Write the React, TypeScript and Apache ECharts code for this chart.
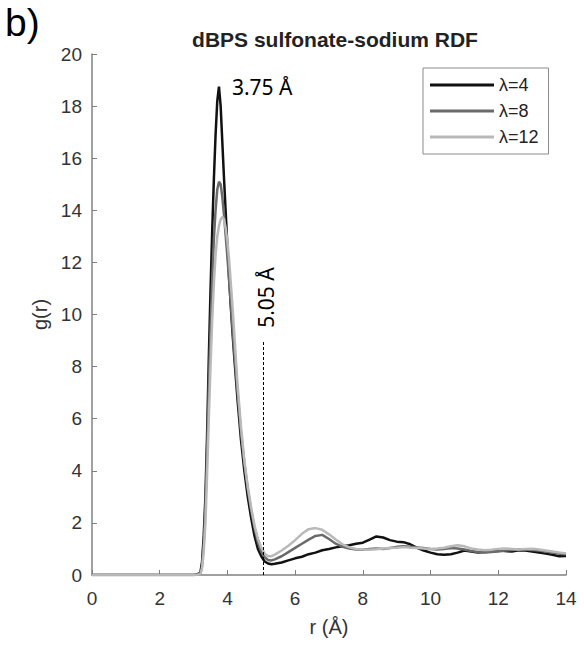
import React, { useEffect, useRef } from "react";
import * as echarts from "echarts";

const rValues = [
  0, 3.0, 3.1, 3.2, 3.25, 3.3, 3.35, 3.4, 3.45, 3.5, 3.55, 3.6, 3.65, 3.7, 3.75, 3.8, 3.85, 3.9, 3.95, 4.0,
  4.05, 4.1, 4.15, 4.2, 4.3, 4.4, 4.5, 4.6, 4.7, 4.8, 4.9, 5.0, 5.1, 5.2, 5.3, 5.4, 5.6, 5.8, 6.0, 6.2,
  6.4, 6.6, 6.8, 7.0, 7.2, 7.4, 7.6, 7.8, 8.0, 8.2, 8.4, 8.6, 8.8, 9.0, 9.2, 9.4, 9.6, 9.8, 10.0, 10.2,
  10.4, 10.6, 10.8, 11.0, 11.2, 11.4, 11.6, 11.8, 12.0, 12.2, 12.4, 12.6, 12.8, 13.0, 13.2, 13.4, 13.6, 13.8, 14.0,
];

const gLambda4 = [
  0, 0, 0.02, 0.08, 0.5, 1.5, 3.0, 5.4, 8.3, 10.9, 13.2, 15.2, 16.9, 18.2, 18.75, 18.0, 16.6, 15.2, 13.9, 12.6,
  11.4, 10.3, 9.3, 8.4, 6.7, 5.2, 4.0, 3.0, 2.2, 1.5, 1.0, 0.72, 0.52, 0.44, 0.41, 0.43, 0.48, 0.56, 0.64, 0.7,
  0.8, 0.86, 0.95, 1.0, 1.06, 1.1, 1.14, 1.2, 1.24, 1.36, 1.48, 1.44, 1.34, 1.28, 1.26, 1.18, 1.04, 0.94, 0.86, 0.8,
  0.78, 0.8, 0.86, 0.94, 0.9, 0.86, 0.88, 0.9, 0.94, 0.92, 0.9, 0.95, 0.94, 0.9, 0.86, 0.82, 0.78, 0.72, 0.73,
];

const gLambda8 = [
  0, 0, 0.01, 0.04, 0.35, 1.2, 2.6, 4.8, 7.2, 9.4, 11.3, 12.9, 14.0, 14.8, 15.1, 15.0, 14.5, 13.8, 13.0, 12.2,
  11.3, 10.4, 9.5, 8.6, 7.0, 5.5, 4.3, 3.3, 2.5, 1.8, 1.25, 0.9, 0.68, 0.58, 0.56, 0.6, 0.72, 0.88, 1.04, 1.2,
  1.36, 1.5, 1.54, 1.38, 1.2, 1.08, 1.02, 0.98, 0.97, 1.0, 1.02, 1.0, 1.04, 1.08, 1.1, 1.08, 1.06, 1.04, 1.0, 0.98,
  1.0, 1.04, 1.02, 0.98, 0.92, 0.88, 0.86, 0.88, 0.9, 0.94, 0.96, 0.98, 0.98, 0.96, 0.94, 0.9, 0.86, 0.82, 0.8,
];

const gLambda12 = [
  0, 0, 0.01, 0.03, 0.25, 0.9, 2.0, 3.9, 6.0, 8.0, 9.8, 11.2, 12.3, 13.0, 13.4, 13.65, 13.75, 13.65, 13.3, 12.8,
  12.1, 11.2, 10.3, 9.3, 7.3, 5.7, 4.4, 3.4, 2.6, 1.9, 1.4, 1.05, 0.82, 0.72, 0.72, 0.78, 0.94, 1.12, 1.34, 1.58,
  1.76, 1.8, 1.74, 1.56, 1.36, 1.18, 1.06, 1.0, 0.98, 0.97, 0.99, 1.02, 1.04, 1.05, 1.07, 1.05, 1.04, 1.02, 1.0, 1.02,
  1.05, 1.1, 1.14, 1.1, 1.02, 0.98, 0.95, 0.97, 1.0, 1.02, 1.0, 0.98, 1.0, 1.01, 0.98, 0.94, 0.9, 0.86, 0.83,
];

const seriesNames = ["λ=4", "λ=8", "λ=12"];
const seriesValues = [gLambda4, gLambda8, gLambda12];
const seriesColors = ["#111111", "#6a6a6a", "#b9b9b9"];

const peakR = 3.75;
const peakG = 18.75;
const firstMinR = 5.05;
const dashTopG = 9.0;
const labelFont = "'Liberation Sans', Arial, sans-serif";
const noteFont = "'Noto Sans', 'Open Sans', sans-serif";

export default function App() {
  const ref = useRef<HTMLDivElement>(null);

  useEffect(() => {
    if (!ref.current) return;
    const chart = echarts.init(ref.current, undefined, { renderer: "svg" });

    const series: any[] = seriesNames.map((name, i) => ({
      name,
      type: "line",
      symbol: "none",
      smooth: false,
      data: rValues.map((r, j) => [r, seriesValues[i][j]]),
      lineStyle: { color: seriesColors[i], width: 2.5 },
      itemStyle: { color: seriesColors[i] },
      z: 2 + i,
    }));
    series[0].markLine = {
      silent: true,
      symbol: "none",
      label: { show: false },
      lineStyle: { color: "#000", type: [3, 2], width: 1 },
      data: [[{ coord: [firstMinR, 0] }, { coord: [firstMinR, dashTopG] }]],
    };

    chart.setOption({
      animation: false,
      backgroundColor: "#ffffff",
      title: {
        text: "dBPS sulfonate-sodium RDF",
        left: 330,
        top: 24,
        textAlign: "center",
        textStyle: { fontFamily: labelFont, fontSize: 21, fontWeight: "bold", color: "#222" },
      },
      grid: { left: 92, right: 18, top: 54, bottom: 70, containLabel: false },
      legend: {
        left: 423,
        top: 68,
        orient: "vertical",
        icon: "rect",
        itemWidth: 64,
        itemHeight: 3,
        itemGap: 6,
        padding: [7, 10, 7, 7],
        borderColor: "#8a8a8a",
        borderWidth: 1,
        backgroundColor: "#fff",
        textStyle: { fontFamily: labelFont, fontSize: 18, color: "#222", lineHeight: 20 },
        data: seriesNames,
      },
      xAxis: {
        type: "value",
        min: 0,
        max: 14,
        interval: 2,
        name: "r (Å)",
        nameLocation: "middle",
        nameGap: 42,
        nameTextStyle: { fontFamily: labelFont, fontSize: 20, color: "#333" },
        axisLine: { show: true, lineStyle: { color: "#808080", width: 1.5 } },
        axisTick: { show: true, inside: true, length: 5, lineStyle: { color: "#808080" } },
        axisLabel: { fontFamily: labelFont, fontSize: 19, color: "#333", margin: 14 },
        splitLine: { show: false },
      },
      yAxis: {
        type: "value",
        min: 0,
        max: 20,
        interval: 2,
        name: "g(r)",
        nameLocation: "middle",
        nameGap: 42,
        nameTextStyle: { fontFamily: labelFont, fontSize: 20, color: "#333" },
        axisLine: { show: true, lineStyle: { color: "#808080", width: 1.5 } },
        axisTick: { show: true, inside: true, length: 5, lineStyle: { color: "#808080" } },
        axisLabel: { fontFamily: labelFont, fontSize: 19, color: "#333", margin: 10 },
        splitLine: { show: false },
      },
      series,
    });

    const peakPx = chart.convertToPixel({ gridIndex: 0 }, [peakR, peakG]) as number[];
    const minPx = chart.convertToPixel({ gridIndex: 0 }, [firstMinR, dashTopG]) as number[];

    chart.setOption({
      graphic: [
        {
          type: "text",
          left: 5,
          top: 3,
          style: { text: "b)", font: `39px ${labelFont}`, fill: "#000" },
        },
        {
          type: "text",
          x: peakPx[0] + 13,
          y: peakPx[1],
          style: {
            text: "3.75 Å",
            font: `21px ${noteFont}`,
            fill: "#000",
            textAlign: "left",
            textVerticalAlign: "middle",
          },
        },
        {
          type: "text",
          x: minPx[0] + 3,
          y: minPx[1] - 43,
          rotation: Math.PI / 2,
          style: {
            text: "5.05 Å",
            font: `21px ${noteFont}`,
            fill: "#000",
            textAlign: "center",
            textVerticalAlign: "middle",
          },
        },
      ],
    });

    return () => chart.dispose();
  }, []);

  return (
    <div
      ref={ref}
      style={{ position: "fixed", left: 0, top: 0, width: 584, height: 645, background: "#fff" }}
    />
  );
}
